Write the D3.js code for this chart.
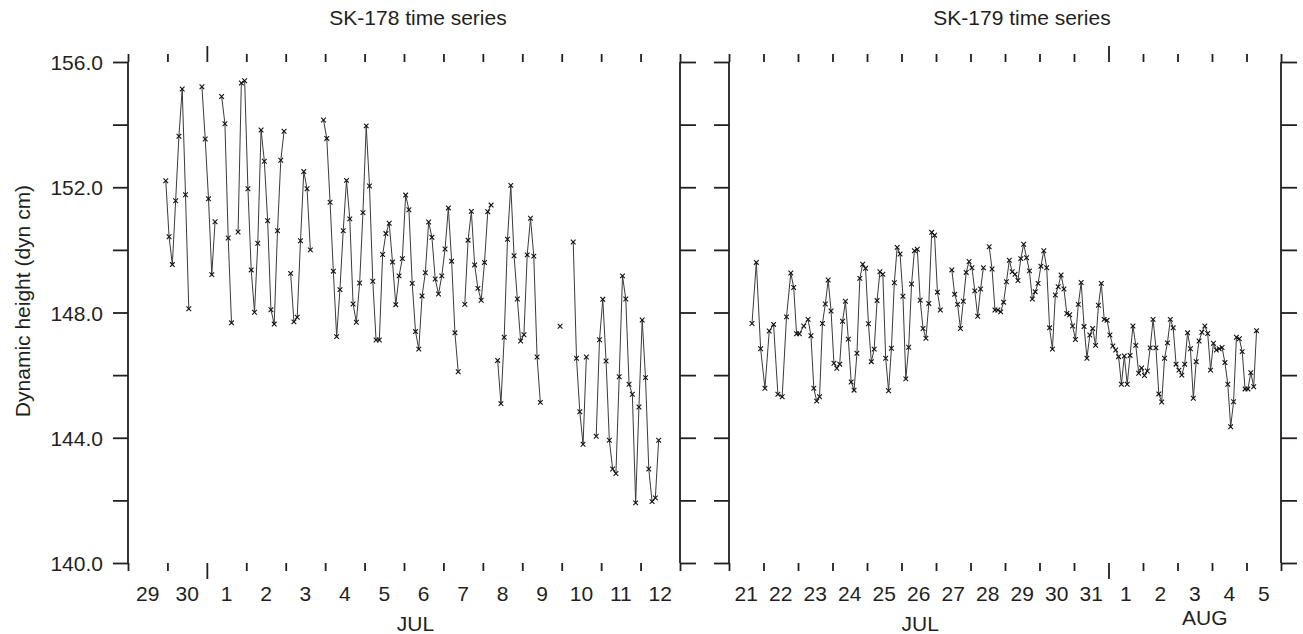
<!DOCTYPE html>
<meta charset="utf-8">
<style>
body { margin: 0; background: #fff; }
svg { display: block; font-family: "Liberation Sans", Arial, sans-serif; fill: #231f20; }
.frame line, .frame path { stroke: #231f20; stroke-width: 1.8; }
.tick text { font-size: 21px; fill: #231f20; }
</style>
<svg width="1303" height="634"></svg>
<script src="https://cdn.jsdelivr.net/npm/d3@7/dist/d3.min.js"></script>
<script>
// SK-178: hours after 29 Jun 00:00, dynamic height (dyn cm); null = gap in record
var sk178Hours = [23,25,27,29,31,33,35,37,39,
  45,47,49,51,53,55,
  57,59,61,63,65,
  67,69,71,73,75,77,79,81,83,85,87,89,91,93,95,97,
  99,101,103,105,107,109,111,113,
  119,121,123,125,127,129,131,133,135,137,139,141,143,145,147,149,151,153,155,157,159,
  161,163,165,167,169,171,173,175,177,179,181,183,185,187,189,191,193,195,197,199,201,203,
  205,207,209,211,213,215,217,219,221,223,
  225,227,229,231,233,235,237,239,241,243,245,247,249,251,253,
  263,265,
  271,273,275,277,279,281,
  285,287,289,291,293,295,297,299,301,303,305,307,309,311,313,315,317,319,321,323];
var sk178Height = [152.21,150.42,149.53,151.57,153.63,155.14,151.76,148.12,null,
  155.21,153.54,151.63,149.21,150.90,null,
  154.90,154.03,150.38,147.67,null,
  150.57,155.33,155.40,151.95,149.36,148.01,150.21,153.83,152.83,150.93,148.09,147.63,150.61,152.86,153.79,null,
  149.25,147.70,147.85,150.29,152.50,151.95,150.00,null,
  154.15,153.56,151.52,149.32,147.23,148.73,150.61,152.22,150.99,148.27,147.69,148.94,151.19,153.96,152.04,149.00,147.12,147.12,149.85,150.52,150.85,
  149.61,148.25,149.17,149.72,151.75,151.28,148.93,147.39,146.83,148.53,149.27,150.89,150.40,149.07,148.59,149.17,150.03,151.34,149.64,147.35,146.11,null,
  148.26,150.31,151.23,149.52,148.77,148.39,149.60,151.22,151.43,null,
  146.47,145.09,147.21,150.34,152.06,149.81,148.43,147.09,147.29,149.84,151.01,149.80,146.58,145.13,null,
  147.56,null,
  150.25,146.54,144.83,143.79,146.58,null,
  144.05,147.13,148.42,146.45,143.92,143.00,142.86,145.95,149.17,148.43,145.71,145.39,141.92,144.98,147.76,145.92,143.00,141.96,142.08,143.92];

// SK-179: hours after 21 Jul 00:00
var sk179Hours = [16,19,22,25,28,31,34,37,40,43,45,47,49,52,55,57,59,61,63,65,
  67,69,71,73,75,77,79,81,83,85,87,89,91,93,95,97,99,101,103,105,
  107,109,111,113,115,117,119,121,123,125,127,129,131,133,135,137,139,141,143,145,147,151,
  155,157,159,161,163,165,167,169,171,173,175,177,179,
  181,183,185,187,189,191,193,195,197,199,201,203,205,207,209,211,213,215,217,219,221,
  223,225,227,229,231,233,235,237,239,241,243,245,247,249,251,253,255,257,259,261,263,
  265,267,269,271,273,275,277,279,281,283,285,287,289,291,293,295,297,299,301,303,305,
  307,309,311,313,315,317,319,321,323,325,327,329,331,333,335,337,339,341,343,345,347,
  349,351,353,355,357,359,361,363,365,367];
var sk179Height = [147.65,149.60,146.84,145.58,147.41,147.62,145.39,145.31,147.86,149.26,148.80,147.32,147.32,147.57,147.78,147.26,145.58,145.17,145.31,147.65,
  148.27,149.04,148.05,146.38,146.22,146.35,147.72,148.36,147.15,145.78,145.52,146.70,149.09,149.54,149.41,147.64,146.43,146.83,148.38,149.30,
  149.22,146.54,145.50,146.86,148.95,150.08,149.87,148.52,145.88,146.89,148.91,149.97,150.02,148.39,147.49,147.18,148.29,150.56,150.47,148.65,148.08,null,
  149.36,148.58,148.26,147.49,148.36,149.28,149.63,149.43,148.69,147.88,148.75,149.43,null,
  150.10,149.39,148.08,148.08,148.02,148.33,148.98,149.67,149.30,149.22,149.02,149.72,150.18,149.75,149.33,148.43,148.66,148.93,149.48,149.97,149.43,
  147.51,146.83,148.56,148.82,149.20,148.75,147.97,147.93,147.57,147.14,148.26,148.96,147.55,146.54,147.28,147.49,146.95,148.23,148.93,147.78,147.75,
  147.28,146.93,146.80,146.59,145.71,146.61,145.71,146.63,147.57,146.95,146.06,146.23,145.99,146.13,146.87,147.78,146.87,145.40,145.14,146.54,147.03,
  147.78,147.51,146.35,146.16,146.00,146.35,147.35,146.84,145.26,146.43,147.09,147.37,147.57,147.33,146.16,147.02,146.80,146.84,146.88,146.40,145.71,
  144.35,145.15,147.21,147.16,146.75,145.56,145.56,146.08,145.63,147.42];

var days178 = ["29","30","1","2","3","4","5","6","7","8","9","10","11","12"];
var days179 = ["21","22","23","24","25","26","27","28","29","30","31","1","2","3","4","5"];
var months178 = [{name: "JUL", hour: 175}];
var months179 = [{name: "JUL", hour: 133}, {name: "AUG", hour: 331}];
var yTicks = [140,142,144,146,148,150,152,154,156];

var svg = d3.select("svg");
var y = d3.scaleLinear().domain([140, 156]).range([563, 62]);

function drawPanel(p) {
  var x = d3.scaleLinear().domain([0, p.days.length * 24]).range([p.left, p.right]);
  var bounds = d3.range(0, p.days.length * 24 + 1, 24);
  var g = svg.append("g").attr("class", "frame");

  // frame: left/right with y ticks
  var yl = g.append("g").attr("transform", "translate(" + p.left + ",0)")
      .call(d3.axisLeft(y).tickValues(yTicks).tickSize(15).tickPadding(10)
        .tickFormat(function(d) { return p.yLabels && d % 4 === 0 ? d.toFixed(1) : ""; }));
  yl.selectAll(".tick text").attr("dy", "0.36em");
  g.append("g").attr("transform", "translate(" + p.right + ",0)")
      .call(d3.axisRight(y).tickValues(yTicks).tickSize(16).tickFormat(""));

  // frame: bottom/top with day ticks, long tick at the month change
  var xb = g.append("g").attr("transform", "translate(0,563)")
      .call(d3.axisBottom(x).tickValues(bounds).tickSize(8).tickSizeOuter(0).tickFormat(""));
  var xt = g.append("g").attr("transform", "translate(0,62)")
      .call(d3.axisTop(x).tickValues(bounds).tickSize(8).tickSizeOuter(0).tickFormat(""));
  xb.selectAll(".tick line").filter(function(d) { return d === p.monthStart; }).attr("y2", 16);
  xt.selectAll(".tick line").filter(function(d) { return d === p.monthStart; }).attr("y2", -16);

  g.selectAll(".domain").remove();
  g.append("line").attr("x1", p.left).attr("x2", p.left).attr("y1", 62).attr("y2", 563);
  g.append("line").attr("x1", p.right).attr("x2", p.right).attr("y1", 62).attr("y2", 563);

  // day labels centred in each day
  svg.append("g").selectAll("text").data(p.days).join("text")
      .attr("x", function(d, i) { return x(i * 24 + 12); })
      .attr("y", 601)
      .attr("text-anchor", "middle")
      .style("font-size", "21px")
      .text(function(d) { return d; });

  svg.append("g").selectAll("text").data(p.months).join("text")
      .attr("x", function(d) { return x(d.hour); })
      .attr("y", function(d) { return d.baseline; })
      .attr("text-anchor", "middle")
      .style("font-size", "21px")
      .text(function(d) { return d.name; });

  svg.append("text")
      .attr("x", p.titleX).attr("y", 25)
      .attr("text-anchor", "middle")
      .style("font-size", "21px")
      .text(p.title);

  var pts = p.hours.map(function(h, i) { return {h: h, v: p.values[i]}; });
  var line = d3.line()
      .defined(function(d) { return d.v != null; })
      .x(function(d) { return x(d.h); })
      .y(function(d) { return y(d.v); });

  svg.append("path").datum(pts)
      .attr("d", line)
      .attr("fill", "none")
      .attr("stroke", "#3a3a3a")
      .attr("stroke-width", 1);

  svg.append("g").selectAll("path")
      .data(pts.filter(function(d) { return d.v != null; }))
      .join("path")
      .attr("transform", function(d) { return "translate(" + x(d.h) + "," + y(d.v) + ")"; })
      .attr("d", d3.symbol(d3.symbolX, 16))
      .attr("fill", "none")
      .attr("stroke", "#111")
      .attr("stroke-width", 1.1);
}

months178[0].baseline = 631;
months179[0].baseline = 631;
months179[1].baseline = 625;

drawPanel({left: 128, right: 680, days: days178, monthStart: 48, months: months178,
  hours: sk178Hours, values: sk178Height, yLabels: true, title: "SK-178 time series", titleX: 418});
drawPanel({left: 729, right: 1281, days: days179, monthStart: 264, months: months179,
  hours: sk179Hours, values: sk179Height, yLabels: false, title: "SK-179 time series", titleX: 1022});

svg.append("text")
    .attr("transform", "translate(30,301) rotate(-90)")
    .attr("text-anchor", "middle")
    .style("font-size", "21px")
    .text("Dynamic height (dyn cm)");
</script>
